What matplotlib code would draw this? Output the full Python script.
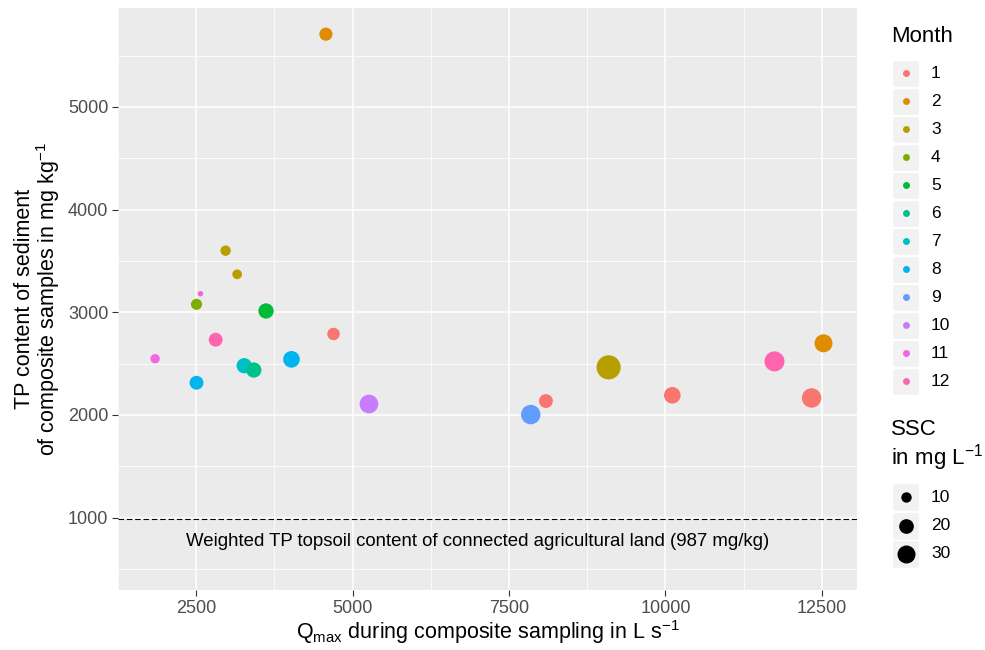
import matplotlib
matplotlib.use("Agg")
import matplotlib.pyplot as plt
from matplotlib.patches import Rectangle

plt.rcParams['font.family'] = ['Liberation Sans', 'DejaVu Sans']
plt.rcParams['mathtext.fontset'] = 'custom'
plt.rcParams['mathtext.rm'] = 'Liberation Sans'
plt.rcParams['mathtext.it'] = 'Liberation Sans:italic'
plt.rcParams['mathtext.default'] = 'regular'

# data
month = [2, 3, 3, 11, 4, 5, 12, 1, 11, 7, 6, 8, 8, 10, 9, 1, 3, 1, 12, 2, 1]
qmax = [4573, 2970, 3155, 2568, 2505, 3616, 2811, 4695, 1843, 3267, 3420,
        4023, 2505, 5261, 7847, 8090, 9092, 10110, 11743, 12527, 12336]
tp = [5708, 3600, 3370, 3181, 3078, 3013, 2733, 2789, 2548, 2480, 2438,
      2542, 2314, 2107, 2004, 2136, 2464, 2192, 2522, 2698, 2166]
ssc = [16, 10, 8.7, 2.8, 11.4, 21.6, 17.8, 14.4, 8.1, 21.6, 21.6,
       25.6, 17.8, 32.4, 35, 17.8, 54, 25.6, 37, 30, 35]

month_levels = list(range(1, 13))
month_colors = ['#F8766D', '#DE8C00', '#B79F00', '#7CAE00', '#00BA38', '#00C08B',
                '#00BFC4', '#00B4F0', '#619CFF', '#C77CFF', '#F564E3', '#FF64B0']
ssc_breaks = [10, 20, 30]
topsoil_tp = 987
ref_label = 'Weighted TP topsoil content of connected agricultural land (987 mg/kg)'

W, H = 985, 650
fig = plt.figure(figsize=(W / 100, H / 100), dpi=100)
ax = fig.add_axes([118 / W, 1 - 590 / H, (857 - 118) / W, (590 - 8) / H])
ax.set_facecolor('#EBEBEB')
for s in ax.spines.values():
    s.set_visible(False)

ax.set_xlim(1312, 13062)
ax.set_ylim(296, 5963)
ax.set_xticks([2500, 5000, 7500, 10000, 12500])
ax.set_xticks([1250, 3750, 6250, 8750, 11250], minor=True)
ax.set_yticks([1000, 2000, 3000, 4000, 5000])
ax.set_yticks([500, 1500, 2500, 3500, 4500, 5500], minor=True)
ax.grid(which='major', color='white', lw=1.1)
ax.grid(which='minor', color='white', lw=0.55)
ax.set_axisbelow(True)
ax.tick_params(which='major', length=4, width=0.8, color='#333333',
               labelcolor='#4D4D4D', labelsize=13, pad=3)
ax.tick_params(which='minor', length=0)

def dot_size(v):
    # area proportional to SSC
    return 5.6 * v

cols = [month_colors[m - 1] for m in month]
ax.scatter(qmax, tp, s=[dot_size(v) for v in ssc], c=cols, linewidths=0, zorder=3)

ax.axhline(topsoil_tp, color='black', lw=0.8, dashes=(5, 2.5), zorder=2)
ax.text(7000, 770, ref_label, ha='center', va='center', fontsize=13.4, color='black')

ax.set_xlabel('Q$_{max}$ during composite sampling in L s$^{-1}$', fontsize=15.5, labelpad=1)
ax.set_ylabel('TP content of sediment\nof composite samples in mg kg$^{-1}$',
              fontsize=15.5, labelpad=4, linespacing=0.95)

# legends drawn in pixel coordinates
lg = fig.add_axes([0, 0, 1, 1], facecolor='none')
lg.set_xlim(0, W)
lg.set_ylim(H, 0)
lg.axis('off')

key_x0, key_w, key_h = 892, 27, 27
lab_x = 931
lg.text(key_x0 - 1, 37, 'Month', fontsize=16, va='center', ha='left')
for i, m in enumerate(month_levels):
    yc = 73 + i * 28
    lg.add_patch(Rectangle((key_x0, yc - key_h / 2), key_w, key_h,
                           facecolor='#F2F2F2', edgecolor='white', lw=1))
    lg.scatter([key_x0 + key_w / 2], [yc], s=25, c=month_colors[i], linewidths=0)
    lg.text(lab_x, yc, str(m), fontsize=12.5, va='center', ha='left')

lg.text(key_x0 - 1, 446, 'SSC\nin mg L$^{-1}$', fontsize=16, va='center', ha='left',
        linespacing=1.1)
for i, b in enumerate(ssc_breaks):
    yc = 497 + i * 28.5
    lg.add_patch(Rectangle((key_x0, yc - 28 / 2), key_w, 28,
                           facecolor='#F2F2F2', edgecolor='white', lw=1))
    lg.scatter([key_x0 + key_w / 2], [yc], s=dot_size(b), c='black', linewidths=0)
    lg.text(lab_x, yc, str(b), fontsize=12.5, va='center', ha='left')

fig.savefig('out.png', dpi=100)
